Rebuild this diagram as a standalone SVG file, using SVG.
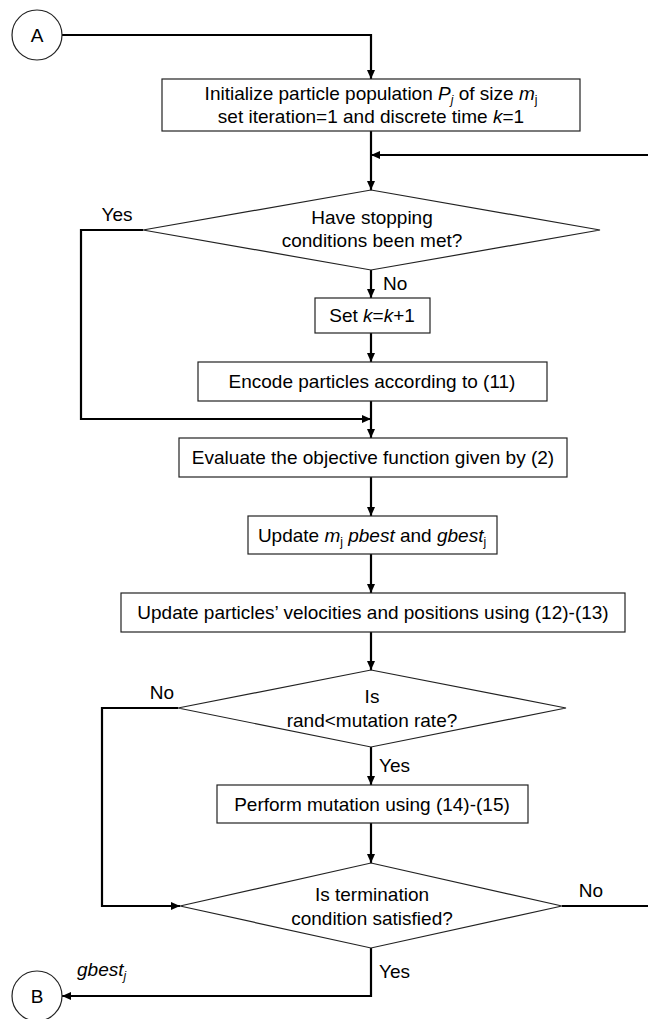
<svg xmlns="http://www.w3.org/2000/svg" width="648" height="1019" viewBox="0 0 648 1019">
<defs>
<marker id="arr" markerUnits="userSpaceOnUse" markerWidth="10" markerHeight="10" refX="9" refY="4" orient="auto">
<path d="M0,0 L9,4 L0,8 z" fill="#000"/>
</marker>
<style>
.box{fill:#fff;stroke:#222;stroke-width:1.2}
.dia{fill:#fff;stroke:#222;stroke-width:1.2}
.circ{fill:#fff;stroke:#222;stroke-width:1.2}
.t{font-family:"Liberation Sans",Arial,sans-serif;font-size:19px;fill:#000}
.c{text-anchor:middle}
.i{font-style:italic}
.con{fill:none;stroke:#000;stroke-width:2.2}
.arr{marker-end:url(#arr)}
</style>
</defs>
<rect width="648" height="1019" fill="#fff"/>
<g id="connectors">
<path class="con arr" d="M62,35 H371 V79"/>
<path class="con arr" d="M371,131 V190"/>
<path class="con arr" d="M648,155 H371"/>
<path class="con arr" d="M143,230 H81 V419 H371"/>
<path class="con arr" d="M371,270 V298"/>
<path class="con arr" d="M371,333 V362"/>
<path class="con arr" d="M371,401 V438"/>
<path class="con arr" d="M371,477 V516"/>
<path class="con arr" d="M371,554 V593"/>
<path class="con arr" d="M371,632 V670"/>
<path class="con arr" d="M178,708 H102 V906 H180"/>
<path class="con arr" d="M371,747 V785"/>
<path class="con arr" d="M371,823 V863"/>
<path class="con" d="M562,906 H648"/>
<path class="con arr" d="M371,948 V996 H62"/>
<text class="t c" x="117" y="221">Yes</text>
<text class="t" x="383" y="290">No</text>
<text class="t c" x="162" y="699">No</text>
<text class="t" x="379" y="772">Yes</text>
<text class="t c" x="591" y="897">No</text>
<text class="t" x="379" y="978">Yes</text>
<text class="t" x="77" y="976"><tspan class="i">gbest</tspan><tspan class="i" font-size="12" dy="4">j</tspan></text>
</g>
<g id="nodeA">
<circle class="circ" cx="37" cy="35" r="25"/>
<text class="t c" x="37" y="42" font-size="20">A</text>
</g>
<g id="init">
<rect class="box" x="162" y="79" width="418" height="52"/>
<text class="t c" x="371" y="100">Initialize particle population <tspan class="i">P</tspan><tspan class="i" font-size="12" dy="4">j</tspan><tspan dy="-4"> of size </tspan><tspan class="i">m</tspan><tspan font-size="12" dy="4">j</tspan></text>
<text class="t c" x="371" y="123">set iteration=1 and discrete time <tspan class="i">k</tspan>=1</text>
</g>
<g id="stop">
<polygon class="dia" points="371,190 600,230 371,270 143,230"/>
<text class="t c" x="372" y="224">Have stopping</text>
<text class="t c" x="372" y="247">conditions been met?</text>
</g>
<g id="setk">
<rect class="box" x="315" y="298" width="115" height="35"/>
<text class="t c" x="372" y="322">Set <tspan class="i">k</tspan>=<tspan class="i">k</tspan>+1</text>
</g>
<g id="encode">
<rect class="box" x="198" y="362" width="349" height="39"/>
<text class="t c" x="372" y="388">Encode particles according to (11)</text>
</g>
<g id="evaluate">
<rect class="box" x="179" y="438" width="388" height="39"/>
<text class="t c" x="373" y="464">Evaluate the objective function given by (2)</text>
</g>
<g id="update">
<rect class="box" x="248" y="516" width="249" height="38"/>
<text class="t c" x="372" y="542">Update <tspan class="i">m</tspan><tspan font-size="12" dy="4">j</tspan><tspan dy="-4"> </tspan><tspan class="i">pbest</tspan> and <tspan class="i">gbest</tspan><tspan font-size="12" dy="4">j</tspan></text>
</g>
<g id="updatePos">
<rect class="box" x="121" y="593" width="504" height="39"/>
<text class="t c" x="373" y="619">Update particles’ velocities and positions using (12)-(13)</text>
</g>
<g id="mut">
<polygon class="dia" points="371,670 566,708 371,747 178,708"/>
<text class="t c" x="372" y="703">Is</text>
<text class="t c" x="372" y="727">rand&lt;mutation rate?</text>
</g>
<g id="perform">
<rect class="box" x="217" y="785" width="311" height="38"/>
<text class="t c" x="372" y="811">Perform mutation using (14)-(15)</text>
</g>
<g id="term">
<polygon class="dia" points="371,863 562,906 371,948 180,906"/>
<text class="t c" x="372" y="901">Is termination</text>
<text class="t c" x="372" y="925">condition satisfied?</text>
</g>
<g id="nodeB">
<circle class="circ" cx="37" cy="996" r="25"/>
<text class="t c" x="37" y="1003" font-size="20">B</text>
</g>
</svg>
